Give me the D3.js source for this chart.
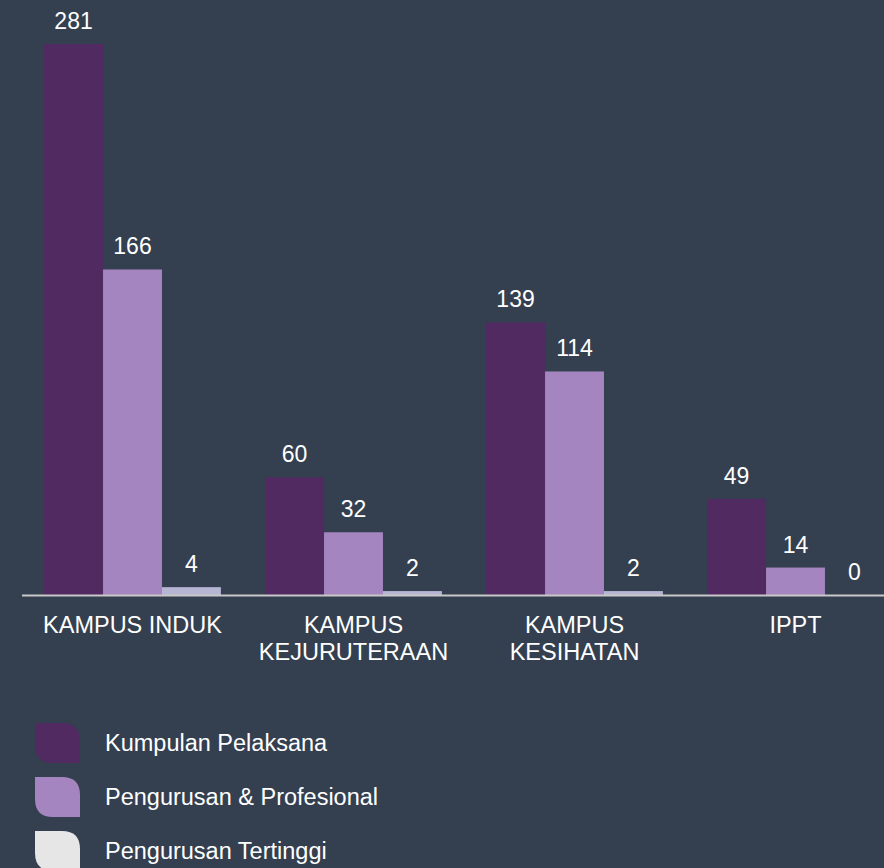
<!DOCTYPE html>
<html>
<head>
<meta charset="utf-8">
<script src="https://cdn.jsdelivr.net/npm/d3@7"></script>
<style>
  body { margin: 0; background: #343f50; }
  svg { display: block; font-family: "Liberation Sans", Arial, sans-serif; }
</style>
</head>
<body>
<div id="chart"></div>
<script>
var svgWidth = 884;
var svgHeight = 868;

// data
var categories = ["KAMPUS INDUK", "KAMPUS KEJURUTERAAN", "KAMPUS KESIHATAN", "IPPT"];
var categoryLines = [["KAMPUS INDUK"], ["KAMPUS", "KEJURUTERAAN"], ["KAMPUS", "KESIHATAN"], ["IPPT"]];
var seriesNames = ["Kumpulan Pelaksana", "Pengurusan & Profesional", "Pengurusan Tertinggi"];
var kumpulanPelaksana = [281, 60, 139, 49];
var pengurusanProfesional = [166, 32, 114, 14];
var pengurusanTertinggi = [4, 2, 2, 0];

var seriesValues = [kumpulanPelaksana, pengurusanProfesional, pengurusanTertinggi];
var barColors = ["#522a62", "#a585bf", "#b6b6d4"];
var legendColors = ["#522a62", "#a585bf", "#e6e6e6"];

var svg = d3.select("#chart")
  .append("svg")
  .attr("width", svgWidth)
  .attr("height", svgHeight);

var baseline = 595;

var x0 = d3.scaleBand()
  .domain(categories)
  .range([22, 906])
  .paddingInner(0.2)
  .paddingOuter(0.1);

var x1 = d3.scaleBand()
  .domain(d3.range(seriesNames.length))
  .range([0, x0.bandwidth()]);

var y = d3.scaleLinear()
  .domain([0, 281])
  .range([baseline, 44]);

// bars
var groups = svg.selectAll(".group")
  .data(categories)
  .enter()
  .append("g")
  .attr("class", "group")
  .attr("transform", d => `translate(${x0(d)},0)`);

groups.selectAll("rect")
  .data((d, i) => seriesValues.map((s, j) => ({ s: j, v: s[i] })))
  .enter()
  .append("rect")
  .attr("x", d => x1(d.s))
  .attr("y", d => y(d.v))
  .attr("width", x1.bandwidth())
  .attr("height", d => baseline - y(d.v))
  .attr("fill", d => barColors[d.s]);

groups.selectAll("text.val")
  .data((d, i) => seriesValues.map((s, j) => ({ s: j, v: s[i] })))
  .enter()
  .append("text")
  .attr("class", "val")
  .attr("x", d => x1(d.s) + x1.bandwidth() / 2)
  .attr("y", d => y(d.v) - 15)
  .attr("text-anchor", "middle")
  .attr("fill", "#ffffff")
  .style("font-size", "23px")
  .text(d => d.v);

// axis line
svg.append("line")
  .attr("x1", 22)
  .attr("x2", svgWidth)
  .attr("y1", baseline + 0.5)
  .attr("y2", baseline + 0.5)
  .attr("stroke", "#c8c8c8")
  .attr("stroke-width", 2);

// category labels
categories.forEach(function(c, i) {
  var t = svg.append("text")
    .attr("x", x0(c) + x0.bandwidth() / 2)
    .attr("y", 633)
    .attr("text-anchor", "middle")
    .attr("fill", "#ffffff")
    .style("font-size", "23.5px");
  categoryLines[i].forEach(function(line, k) {
    t.append("tspan")
      .attr("x", x0(c) + x0.bandwidth() / 2)
      .attr("dy", k === 0 ? 0 : 26.5)
      .text(line);
  });
});

// legend
var leaf = function(w, h, r) {
  return `M0,0 H${w - r} Q${w},0 ${w},${r} V${h} H${r} Q0,${h} 0,${h - r} Z`;
};

var legend = svg.selectAll(".legend")
  .data(seriesNames)
  .enter()
  .append("g")
  .attr("class", "legend")
  .attr("transform", (d, i) => `translate(35,${723 + i * 54})`);

legend.append("path")
  .attr("d", leaf(45, 40, 18))
  .attr("fill", (d, i) => legendColors[i]);

legend.append("text")
  .attr("x", 70)
  .attr("y", 28)
  .attr("fill", "#ffffff")
  .style("font-size", "23.5px")
  .text(d => d);
</script>
</body>
</html>
